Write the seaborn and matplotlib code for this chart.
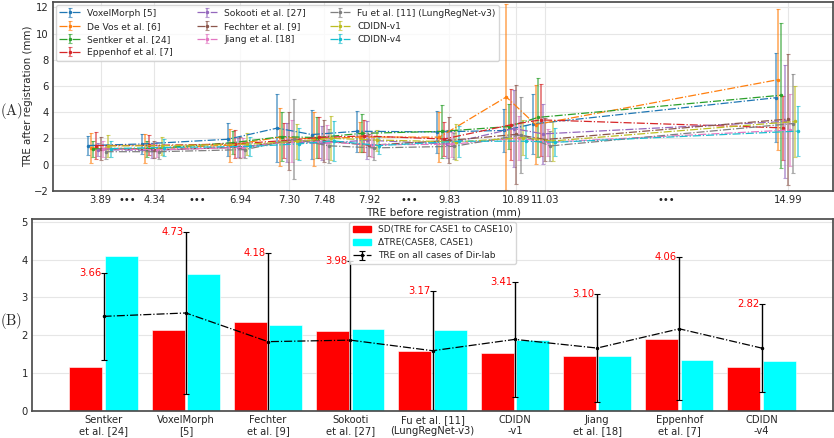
import matplotlib
matplotlib.use('Agg')
import matplotlib.pyplot as plt
from matplotlib.patches import Patch
import numpy as np
import pandas as pd
import seaborn as sns

# ---- (A) TRE after registration per Dir-lab case (cases sorted by TRE before) ----
tre_before = ['3.89', '4.34', '6.94', '7.30', '7.48', '7.92', '9.83', '10.89', '11.03', '14.99']
# where each case sits on the (non linear) x axis
case_pos = [4.77, 10.13, 18.70, 23.63, 27.10, 31.63, 39.60, 46.30, 49.23, 73.47]

methods_a = ['VoxelMorph [5]', 'De Vos et al. [6]', 'Sentker et al. [24]', 'Eppenhof et al. [7]',
             'Sokooti et al. [27]', 'Fechter et al. [9]', 'Jiang et al. [18]',
             'Fu et al. [11] (LungRegNet-v3)', 'CDIDN-v1', 'CDIDN-v4']

voxelmorph_mean = [1.45, 1.57, 1.93, 2.78, 2.29, 2.54, 2.49, 2.60, 3.10, 5.10]
voxelmorph_sd = [0.76, 0.77, 1.25, 2.62, 1.86, 1.57, 1.63, 1.65, 2.30, 3.40]
devos_mean = [1.27, 1.20, 1.48, 2.09, 1.95, 2.10, 2.09, 5.16, 3.05, 6.48]
devos_sd = [1.16, 1.12, 1.26, 2.24, 2.10, 1.14, 1.93, 7.09, 3.01, 5.37]
sentker_mean = [1.20, 1.19, 1.67, 2.13, 2.06, 2.38, 2.53, 2.90, 3.60, 5.29]
sentker_sd = [0.60, 0.63, 0.90, 1.88, 1.56, 1.46, 2.01, 1.70, 2.99, 5.52]
eppenhof_mean = [1.45, 1.46, 1.57, 1.83, 2.07, 2.18, 1.95, 3.04, 3.41, 2.80]
eppenhof_sd = [1.06, 0.76, 1.10, 1.36, 1.59, 1.24, 1.32, 2.73, 2.75, 2.46]
sokooti_mean = [1.13, 1.08, 1.33, 1.71, 1.62, 1.86, 1.57, 2.75, 2.34, 3.29]
sokooti_sd = [0.51, 0.55, 0.73, 1.48, 1.30, 1.47, 1.10, 2.91, 2.32, 4.32]
fechter_mean = [1.21, 1.13, 1.32, 1.79, 1.80, 1.47, 1.84, 2.30, 1.91, 3.47]
fechter_sd = [0.88, 0.65, 0.82, 2.24, 1.60, 0.85, 1.76, 3.78, 1.65, 5.00]
jiang_mean = [1.20, 1.13, 1.30, 1.79, 1.72, 1.51, 1.55, 2.02, 1.70, 2.64]
jiang_sd = [0.63, 0.56, 0.70, 1.61, 1.28, 0.94, 0.96, 1.70, 1.03, 2.78]
fu_mean = [0.98, 0.98, 1.14, 1.93, 1.43, 1.27, 1.39, 2.26, 1.42, 3.13]
fu_sd = [0.54, 0.52, 0.64, 3.06, 1.31, 0.94, 0.99, 2.93, 1.16, 3.77]
cdidn1_mean = [1.42, 1.44, 1.55, 1.77, 2.00, 1.87, 1.73, 2.05, 1.80, 3.29]
cdidn1_sd = [0.83, 0.70, 0.85, 1.33, 1.69, 0.80, 1.37, 1.36, 1.50, 2.72]
cdidn4_mean = [1.22, 1.30, 1.38, 1.58, 1.80, 1.45, 1.78, 1.78, 1.70, 2.55]
cdidn4_sd = [0.61, 0.66, 0.75, 1.22, 1.52, 0.67, 1.18, 1.25, 1.08, 1.93]

# ---- (B) summary over all cases ----
methods_b = ['Sentker\net al. [24]', 'VoxelMorph\n[5]', 'Fechter\net al. [9]', 'Sokooti\net al. [27]',
             'Fu et al. [11]\n(LungRegNet-v3)', 'CDIDN\n-v1', 'Jiang\net al. [18]',
             'Eppenhof\net al. [7]', 'CDIDN\n-v4']
tre_all_mean = [2.50, 2.59, 1.83, 1.87, 1.59, 1.89, 1.66, 2.17, 1.66]
tre_all_sd = [1.16, 2.14, 2.35, 2.11, 1.58, 1.52, 1.44, 1.89, 1.16]
delta_tre = [4.09, 3.63, 2.26, 2.16, 2.15, 1.87, 1.44, 1.35, 1.33]

means = [voxelmorph_mean, devos_mean, sentker_mean, eppenhof_mean, sokooti_mean,
         fechter_mean, jiang_mean, fu_mean, cdidn1_mean, cdidn4_mean]
sds = [voxelmorph_sd, devos_sd, sentker_sd, eppenhof_sd, sokooti_sd,
       fechter_sd, jiang_sd, fu_sd, cdidn1_sd, cdidn4_sd]

sns.set_theme(style='whitegrid')
plt.rcParams['font.family'] = ['DejaVu Sans']
plt.rcParams['mathtext.fontset'] = 'cm'
plt.rcParams['axes.edgecolor'] = '0.3'
plt.rcParams['grid.color'] = '0.9'
plt.rcParams['grid.linewidth'] = 0.8
fs = 7.2

fig = plt.figure(figsize=(8.34, 4.38), dpi=100)
ax1 = fig.add_axes([0.0636, 0.5646, 0.9354, 0.4304])
ax2 = fig.add_axes([0.0384, 0.0623, 0.9606, 0.4377])

pal = sns.color_palette('tab10', 10)
step = 0.245
for i, name in enumerate(methods_a):
    x = np.array(case_pos) + (i - 5) * step
    eb = ax1.errorbar(x, means[i], yerr=sds[i], fmt='-.', marker='.', ms=3, lw=0.9,
                      color=pal[i], elinewidth=1.2, capsize=1.5, capthick=0.8, label=name)
    eb[2][0].set_alpha(0.65)
    for c in eb[1]:
        c.set_alpha(0.65)

ax1.set_xlim(0, 78)
ax1.set_ylim(-2, 12.4)
ax1.set_yticks(range(-2, 13, 2))
ax1.set_xticks(case_pos, labels=tre_before)
gaps = [0, 1, 5, 8]
mids = [(case_pos[g] + case_pos[g + 1]) / 2 for g in gaps]
ax1.set_xticks(mids, labels=['•••'] * len(mids), minor=True)
ax1.tick_params(axis='both', which='both', labelsize=fs, length=0, pad=3)
ax1.set_xlabel('TRE before registration (mm)', fontsize=7.6, labelpad=2)
ax1.set_ylabel('TRE after registration (mm)', fontsize=7.4, labelpad=0.5)
ax1.legend(loc='upper left', ncol=3, fontsize=6.6, frameon=True, borderaxespad=0.3,
           handlelength=2.2, labelspacing=0.45, columnspacing=2.6)

# ---- bottom bars ----
df = pd.DataFrame({
    'method': methods_b * 2,
    'value': tre_all_sd + delta_tre,
    'kind': ['SD(TRE for CASE1 to CASE10)'] * len(methods_b) + ['ΔTRE(CASE8, CASE1)'] * len(methods_b),
})
sns.barplot(data=df, x='method', y='value', hue='kind', palette=['red', 'cyan'],
            width=0.86, gap=0.07, ax=ax2, legend=False, saturation=1,
            edgecolor='white', linewidth=0.4)
xb = np.arange(len(methods_b))
eb2 = ax2.errorbar(xb, tre_all_mean, yerr=tre_all_sd, fmt='-.', marker='.', ms=3,
                   color='black', lw=0.9, elinewidth=1.0, capsize=2, capthick=0.8,
                   label='TRE on all cases of Dir-lab')
for i in range(len(methods_b)):
    top = tre_all_mean[i] + tre_all_sd[i]
    ax2.text(i - 0.03, top, f'{top:.2f}', ha='right', va='center', color='red', fontsize=fs)
ax2.set_xlim(-0.87, 8.87)
ax2.set_ylim(0, 5.08)
ax2.set_xlabel('')
ax2.set_ylabel('')
ax2.tick_params(axis='both', labelsize=fs, length=0, pad=3)
handles = [Patch(color='red'), Patch(color='cyan'), eb2]
labels = ['SD(TRE for CASE1 to CASE10)', 'ΔTRE(CASE8, CASE1)', 'TRE on all cases of Dir-lab']
ax2.legend(handles, labels, loc='upper center', fontsize=6.5, borderaxespad=0.3,
           labelspacing=0.45, handlelength=2.0)

fig.text(0.0, 0.747, r'$\mathrm{(A)}$', fontsize=10.5, va='center', ha='left')
fig.text(0.0, 0.266, r'$\mathrm{(B)}$', fontsize=10.5, va='center', ha='left')

fig.savefig('out.png', dpi=100)
